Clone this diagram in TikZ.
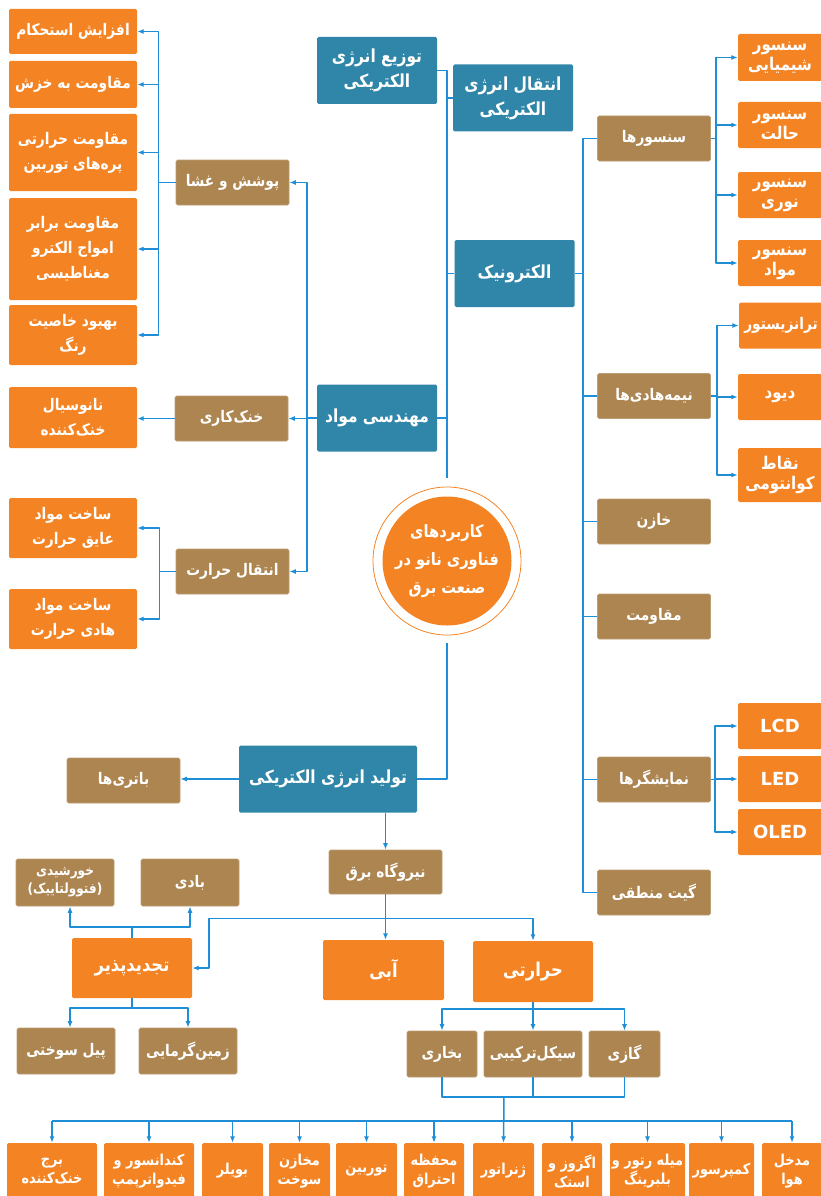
\documentclass[tikz,border=0pt]{standalone}
\usepackage{fontspec}
\usetikzlibrary{calc,arrows.meta}
\newfontfamily\fafont[Script=Arabic,FakeStretch=0.86]{DejaVu Sans}
\newfontfamily\lafont{DejaVu Sans}
\TeXXeTstate=1
\newcommand{\rl}[1]{\beginR #1\endR}
\definecolor{tealbox}{RGB}{48,134,168}
\definecolor{orangebox}{RGB}{244,132,35}
\definecolor{brownbox}{RGB}{173,133,80}
\definecolor{linkblue}{RGB}{30,143,214}

\begin{document}
\begin{tikzpicture}[x=1pt,y=-1pt,line join=round,
	box/.style={rectangle,rounded corners=1.5pt,text=white,align=center,inner sep=0pt,
		font=\fafont\bfseries\fontsize{16}{25}\selectfont},
	tbox/.style={box,fill=tealbox,minimum width=120pt,minimum height=67pt,
		font=\fafont\bfseries\fontsize{18}{25}\selectfont},
	bbox/.style={box,fill=brownbox,draw=brownbox!80!white,line width=0.6pt,minimum width=113pt,minimum height=45pt},
	obox/.style={box,fill=orangebox,minimum width=128pt},
	rbox/.style={box,fill=orangebox,minimum width=84pt,minimum height=46pt,
		font=\fafont\bfseries\fontsize{17.5}{20}\selectfont},
	lbox/.style={rbox,font=\lafont\bfseries\fontsize{18}{20}\selectfont},
	pbox/.style={box,fill=orangebox,minimum height=56pt,font=\fafont\bfseries\fontsize{15}{19}\selectfont},
	link/.style={draw=linkblue,line width=1.5pt},
	>={Latex[length=6.5pt,width=5pt]}]
\useasboundingbox (0,0) rectangle (820,1196);

% main branches
\node[tbox] (dist) at (377,70.5) {\rl{توزیع انرژی}\\\rl{الکتریکی}};
\node[tbox] (trans) at (513,98) {\rl{انتقال انرژی}\\\rl{الکتریکی}};
\node[tbox] (elec) at (514.5,273.5) {\rl{الکترونیک}};
\node[tbox] (mat) at (377,418) {\rl{مهندسی مواد}};
\node[tbox,minimum width=178pt] (gen) at (328,779) {\rl{تولید انرژی الکتریکی}};

\node[circle,draw=orangebox,line width=0.8pt,minimum size=148pt,inner sep=0pt] (hub) at (447,561) {};
\node[circle,fill=orangebox,minimum size=129pt,inner sep=0pt,text=white,align=center,
	font=\fafont\bfseries\fontsize{17}{28}\selectfont] at (hub) {\rl{کاربردهای}\\\rl{فناوری نانو در}\\\rl{صنعت برق}};

% materials
\node[bbox] (coat) at (232.5,182.5) {\rl{پوشش و غشا}};
\node[bbox] (cool) at (231.5,418.5) {\rl{خنک‌کاری}};
\node[bbox] (heat) at (232.5,571.5) {\rl{انتقال حرارت}};
\node[obox,minimum height=45pt] (m1) at (73,31.5) {\rl{افزایش استحکام}};
\node[obox,minimum height=47pt] (m2) at (73,84.5) {\rl{مقاومت به خزش}};
\node[obox,minimum height=77pt] (m3) at (73,152.5) {\rl{مقاومت حرارتی}\\\rl{پره‌های توربین}};
\node[obox,minimum height=102pt] (m4) at (73,249) {\rl{مقاومت برابر}\\\rl{امواج الکترو}\\\rl{مغناطیسی}};
\node[obox,minimum height=60pt] (m5) at (73,335) {\rl{بهبود خاصیت}\\\rl{رنگ}};
\node[obox,minimum height=61pt] (m6) at (73,417.5) {\rl{نانوسیال}\\\rl{خنک‌کننده}};
\node[obox,minimum height=60pt] (m7) at (73,528) {\rl{ساخت مواد}\\\rl{عایق حرارت}};
\node[obox,minimum height=60pt] (m8) at (73,619) {\rl{ساخت مواد}\\\rl{هادی حرارت}};

% electronics
\node[bbox] (sens) at (654,138.5) {\rl{سنسورها}};
\node[bbox] (semi) at (654,396) {\rl{نیمه‌هادی‌ها}};
\node[bbox] (cap) at (654,521.5) {\rl{خازن}};
\node[bbox] (res) at (654,616.5) {\rl{مقاومت}};
\node[bbox] (disp) at (654,779.5) {\rl{نمایشگرها}};
\node[bbox] (gate) at (654,892.5) {\rl{گیت منطقی}};
\node[rbox,minimum height=47pt] (e1) at (780,57.5) {\rl{سنسور}\\\rl{شیمیایی}};
\node[rbox] (e2) at (780,125) {\rl{سنسور}\\\rl{حالت}};
\node[rbox] (e3) at (780,195) {\rl{سنسور}\\\rl{نوری}};
\node[rbox] (e4) at (780,263) {\rl{سنسور}\\\rl{مواد}};
\node[rbox,font=\fafont\bfseries\fontsize{16}{20}\selectfont] (e5) at (781,325.5) {\rl{ترانزیستور}};
\node[rbox] (e6) at (780,397) {\rl{دیود}};
\node[rbox,minimum height=54pt] (e7) at (780,475) {\rl{نقاط}\\\rl{کوانتومی}};
\node[lbox] (e8) at (780,726) {LCD};
\node[lbox] (e9) at (780,779) {LED};
\node[lbox] (e10) at (780,832) {OLED};

% generation
\node[bbox] (bat) at (123.5,780.5) {\rl{باتری‌ها}};
\node[bbox,minimum height=44pt] (plant) at (385.5,872) {\rl{نیروگاه برق}};
\node[bbox,minimum width=98pt,minimum height=47pt,font=\fafont\bfseries\fontsize{14}{18}\selectfont] (solar) at (65,882.5) {\rl{خورشیدی}\\\rl{(فتوولتاییک)}};
\node[bbox,minimum width=98pt,minimum height=47pt] (wind) at (190,882.5) {\rl{بادی}};
\node[box,fill=orangebox,minimum width=120pt,minimum height=60pt,font=\fafont\bfseries\fontsize{19}{22}\selectfont] (renew) at (132,968) {\rl{تجدیدپذیر}};
\node[box,fill=orangebox,minimum width=121pt,minimum height=60pt,font=\fafont\bfseries\fontsize{19}{22}\selectfont] (hydro) at (383.5,970) {\rl{آبی}};
\node[box,fill=orangebox,minimum width=120pt,minimum height=61pt,font=\fafont\bfseries\fontsize{19}{22}\selectfont] (therm) at (533,971.5) {\rl{حرارتی}};
\node[bbox,minimum width=98pt,minimum height=46pt] (fuel) at (66,1051) {\rl{پیل سوختی}};
\node[bbox,minimum width=98pt,minimum height=46pt] (geo) at (188,1051) {\rl{زمین‌گرمایی}};
\node[bbox,minimum width=70pt,minimum height=46pt] (steam) at (442,1054) {\rl{بخاری}};
\node[bbox,minimum width=98pt,minimum height=46pt] (comb) at (533,1054) {\rl{سیکل‌ترکیبی}};
\node[bbox,minimum width=71pt,minimum height=46pt] (gas) at (624.5,1054) {\rl{گازی}};

\node[pbox,minimum width=90pt] (p1) at (52,1171) {\rl{برج}\\\rl{خنک‌کننده}};
\node[pbox,minimum width=90pt] (p2) at (149,1171) {\rl{کندانسور و}\\\rl{فیدواترپمپ}};
\node[pbox,minimum width=61pt] (p3) at (232.5,1171) {\rl{بویلر}};
\node[pbox,minimum width=61pt] (p4) at (299.5,1171) {\rl{مخازن}\\\rl{سوخت}};
\node[pbox,minimum width=61pt] (p5) at (366.5,1171) {\rl{توربین}};
\node[pbox,minimum width=60pt] (p6) at (434,1171) {\rl{محفظه}\\\rl{احتراق}};
\node[pbox,minimum width=61pt] (p7) at (503.5,1171) {\rl{ژنراتور}};
\node[pbox,minimum width=60pt] (p8) at (572,1171) {\rl{اگزوز و}\\\rl{استک}};
\node[pbox,minimum width=75pt] (p9) at (647.5,1171) {\rl{میله رتور و}\\\rl{بلبرینگ}};
\node[pbox,minimum width=65pt] (p10) at (721.5,1171) {\rl{کمپرسور}};
\node[pbox,minimum width=60pt] (p11) at (792,1171) {\rl{مدخل}\\\rl{هوا}};

% trunk
\draw[link] (dist.east) -| ($(hub.north)+(0,-9)$);
\draw[link] (trans.west) -- (trans.west -| hub);
\draw[link] (elec.west) -- (elec.west -| hub);
\draw[link] (mat.east) -- (mat.east -| hub);
\draw[link] ($(hub.south)+(0,8)$) |- (gen.east);

% materials links
\draw[link,->] (mat.west) -- ++(-10,0) |- (coat.east);
\draw[link,->] (mat.west) -- ++(-10,0) |- (cool.east);
\draw[link,->] (mat.west) -- ++(-10,0) |- (heat.east);
\foreach \m in {m1,m2,m3,m4,m5}
	\draw[link,->] (coat.west) -- ++(-17,0) |- (\m.east);
\draw[link,->] (cool.west) -- (cool.west -| m6.east);
\foreach \m in {m7,m8}
	\draw[link,->] (heat.west) -- ++(-16,0) |- (\m.east);

% electronics links
\draw[link] (elec.east) -- ++(8,0);
\draw[link] (sens.west) -- ++(-14,0) |- (gate.west);
\foreach \b in {semi,cap,res,disp}
	\draw[link] (\b.west) -- ++(-14,0);
\foreach \e in {e1,e2,e3,e4}
	\draw[link,->] (sens.east) -- ++(5,0) |- (\e.west);
\foreach \e in {e5,e6,e7}
	\draw[link,->] (semi.east) -- ++(6,0) |- (\e.west);
\foreach \e in {e8,e9,e10}
	\draw[link,->] (disp.east) -- ++(4,0) |- (\e.west);

% generation links
\draw[link,->] (gen.west) -- (gen.west -| bat.east);
\draw[link,->] (gen.south -| plant) -- (plant.north);
\coordinate (pj) at ($(plant.south)+(0,24)$);
\draw[link,->] (plant.south) -- (plant.south |- hydro.north);
\draw[link,->] (pj) -| (therm.north);
\draw[link,->] (pj) -| ($(renew.east)+(17,0)$) -- (renew.east);
\coordinate (ru) at ($(renew.north)+(0,-11)$);
\coordinate (rd) at ($(renew.south)+(0,10)$);
\draw[link] (renew.north) -- (ru);
\draw[link,->] (ru) -| ($(solar.south)+(5,0)$);
\draw[link,->] (ru) -| (wind.south);
\draw[link] (renew.south) -- (rd);
\draw[link,->] (rd) -| ($(fuel.north)+(4,0)$);
\draw[link,->] (rd) -| (geo.north);
\coordinate (hd) at ($(therm.south)+(0,7)$);
\draw[link] (therm.south) -- (hd);
\foreach \b in {steam,comb,gas}
	\draw[link,->] (hd) -| (\b.north);
\coordinate (mj) at (504,1097);
\draw[link] (steam.south) |- (mj -| gas.south) -- (gas.south);
\draw[link] (comb.south) -- (comb.south |- mj);
\coordinate (bus) at (0,1121);
\draw[link] (p1.north |- bus) -- (p11.north |- bus);
\draw[link,->] (mj) -- (p7.north);
\foreach \p in {p1,p2,p3,p4,p5,p6,p8,p9,p10,p11}
	\draw[link,->] (\p.north |- bus) -- (\p.north);
\end{tikzpicture}
\end{document}
